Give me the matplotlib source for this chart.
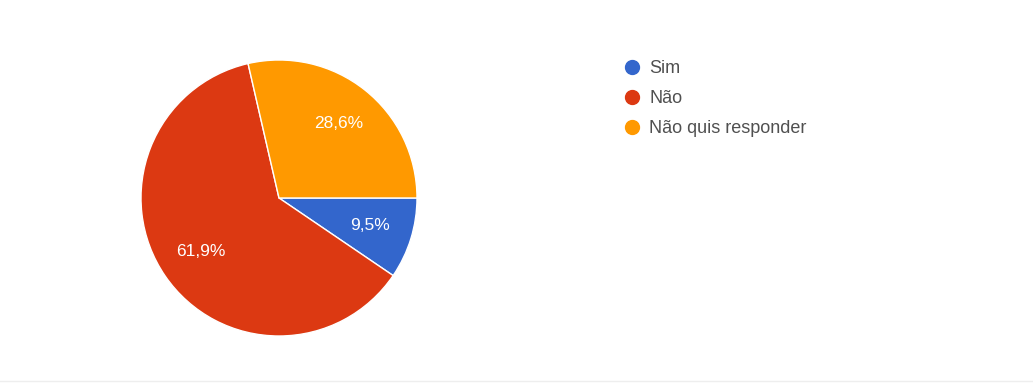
import matplotlib.pyplot as plt
from matplotlib.lines import Line2D

labels = ['Sim', 'Não', 'Não quis responder']
values = [9.5, 61.9, 28.6]
colors = ['#3366CC', '#DC3912', '#FF9900']

plt.rcParams['font.family'] = ['Liberation Sans', 'DejaVu Sans']

fig = plt.figure(figsize=(10.33, 3.85), dpi=100)
fig.patch.set_facecolor('white')

# pie axes: centre (279, 198) px, radius 138 px
W, H = 1033, 385
cx, cy, r = 279, 198, 138
ax = fig.add_axes([(cx - r) / W, (H - cy - r) / H, 2 * r / W, 2 * r / H])
wedges, texts, autotexts = ax.pie(
    values, colors=colors, startangle=0, counterclock=False,
    autopct=lambda p: f'{p:.1f}%'.replace('.', ','), pctdistance=0.69,
    wedgeprops=dict(edgecolor='white', linewidth=1),
    textprops=dict(color='white', fontsize=12.5))
ax.set_xlim(-1, 1)
ax.set_ylim(-1, 1)
ax.set_aspect('auto')
ax.axis('off')

handles = [Line2D([], [], marker='o', linestyle='none', markersize=10,
                  markerfacecolor=c, markeredgecolor=c) for c in colors]
fig.legend(handles, labels, loc='upper left', bbox_to_anchor=(614 / W, 1 - 51 / H),
           frameon=False, fontsize=13, handlelength=1.0, handletextpad=0.45,
           labelspacing=0.72, labelcolor='#505050', borderpad=0)

# thin divider at the bottom
fig.add_artist(Line2D([0, 1], [1 - 381 / H] * 2, color='#eeeeee', linewidth=1))

fig.savefig('out.png', dpi=100)
